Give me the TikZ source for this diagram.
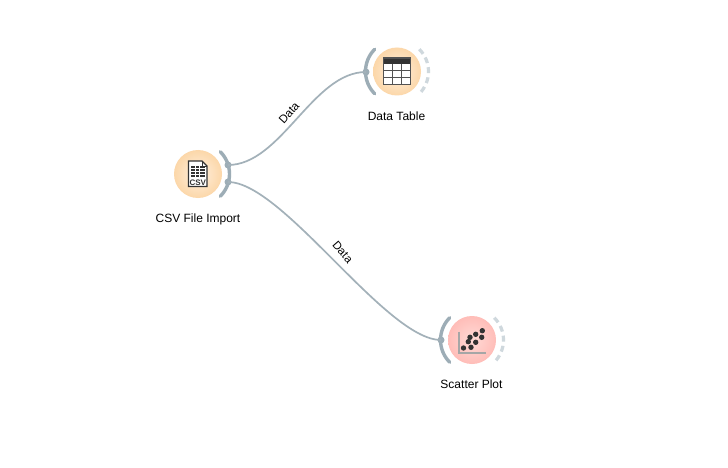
\documentclass[tikz,border=0pt]{standalone}
\usepackage{fontspec}
\setmainfont{Liberation Sans}
\definecolor{linkgray}{HTML}{A3B1B9}
\definecolor{portgray}{HTML}{9DADB6}
\definecolor{slotgray}{HTML}{CFD8DD}
\definecolor{icondark}{HTML}{333333}
\definecolor{peachin}{HTML}{FEF0DF}
\definecolor{peachout}{HTML}{FCD7A9}
\definecolor{rosein}{HTML}{FFDAD6}
\definecolor{roseout}{HTML}{FFBDB8}
\tikzset{
  widget/.style={circle,minimum size=48pt,inner sep=0pt,shading=radial},
  datawidget/.style={widget,inner color=peachin,outer color=peachout},
  plotwidget/.style={widget,inner color=rosein,outer color=roseout},
  caption/.style={font=\fontsize{12}{14}\selectfont,inner sep=0pt},
  linklabel/.style={font=\fontsize{11.5}{14}\selectfont,inner sep=0pt},
  port/.style={circle,fill=portgray,minimum size=7pt,inner sep=0pt},
  linkline/.style={draw=linkgray,line width=1.7pt},
  portarc/.style={draw=portgray,line width=3.4pt,line cap=round},
  slotarc/.style={draw=slotgray,line width=3.2pt,dash pattern=on 6pt off 4.2pt},
  dot/.style={circle,fill=icondark,minimum size=5.4pt,inner sep=0pt},
}
\begin{document}
\begin{tikzpicture}[x=1pt,y=-1pt]
\useasboundingbox (0,0) rectangle (728,468);
\fill[white] (0,0) rectangle (728,468);
\node[datawidget] (csv) at (198,174) {};
\node[datawidget] (table) at (397,71.5) {};
\node[plotwidget] (scatter) at (472,340) {};
\node[caption] (csvname) at (198,219) {CSV File Import};
\node[caption] (tablename) at (396.5,116.5) {Data Table};
\node[caption] (scattername) at (471.5,384.5) {Scatter Plot};
% channels
\draw[portarc] (csv) ++(-45:31.5) arc (-45:45:31.5);
\draw[portarc] (table) ++(135:31.5) arc (135:225:31.5);
\draw[slotarc] (table) ++(-45:31.5) arc (-45:45:31.5);
\draw[portarc] (scatter) ++(135:31.5) arc (135:225:31.5);
\draw[slotarc] (scatter) ++(-45:31.5) arc (-45:45:31.5);
\node[port] (csvout1) at (228,165) {};
\node[port] (csvout2) at (228,182) {};
\node[port] (tablein) at (366,72) {};
\node[port] (scatterin) at (441,340) {};
\path[linkline]
  (csvout1.center) edge[out=0,in=180,looseness=0.82] (tablein.center)
  (csvout2.center) edge[out=0,in=180,looseness=0.53] (scatterin.center)
;
\node[linklabel,rotate=48] (link1) at (289,113) {Data};
\node[linklabel,rotate=-49] (link2) at (342.7,252.3) {Data};
% csv icon
\draw[icondark,fill=white,line width=1.3pt] (188.5,161) -- (202,161) -- (207,166) -- (207,186.5) -- (188.5,186.5) -- cycle;
\draw[icondark,line width=0.9pt] (202,161) -- (202,166) -- (207,166);
\foreach \y in {167,170,173,176}
  \draw[icondark,line width=1.5pt] (191,\y) -- (204.5,\y);
\foreach \x in {195,199.5}
  \draw[white,line width=0.7pt] (\x,165.5) -- (\x,177.5);
\node[font=\fontsize{8}{8}\selectfont\bfseries,text=icondark,inner sep=0pt] (csvtag) at (197.8,182.3) {CSV};
% table icon
\fill[white] (383.5,58.5) rectangle (410.5,84.5);
\fill[icondark] (383.5,58) rectangle (410.5,64.3);
\draw[icondark!85,line width=0.8pt] (392.7,64) -- (392.7,84.5);
\draw[icondark!85,line width=0.8pt] (401.7,64) -- (401.7,84.5);
\draw[icondark!85,line width=0.8pt] (383.5,70.5) -- (410.5,70.5);
\draw[icondark!85,line width=0.8pt] (383.5,77) -- (410.5,77);
\draw[icondark!85,line width=1.2pt] (383.5,58) rectangle (410.5,84.5);
% scatter icon
\draw[black!35,line width=1.2pt] (459,331.5) -- (459,353) -- (486,353);
\foreach \x/\y in {463.5/348,471/347.3,468.3/341.7,470/337.3,475.7/334.3,482.3/330.7,481.7/337.3,475.7/342.3}
  \node[dot] at (\x,\y) {};
\end{tikzpicture}
\end{document}
